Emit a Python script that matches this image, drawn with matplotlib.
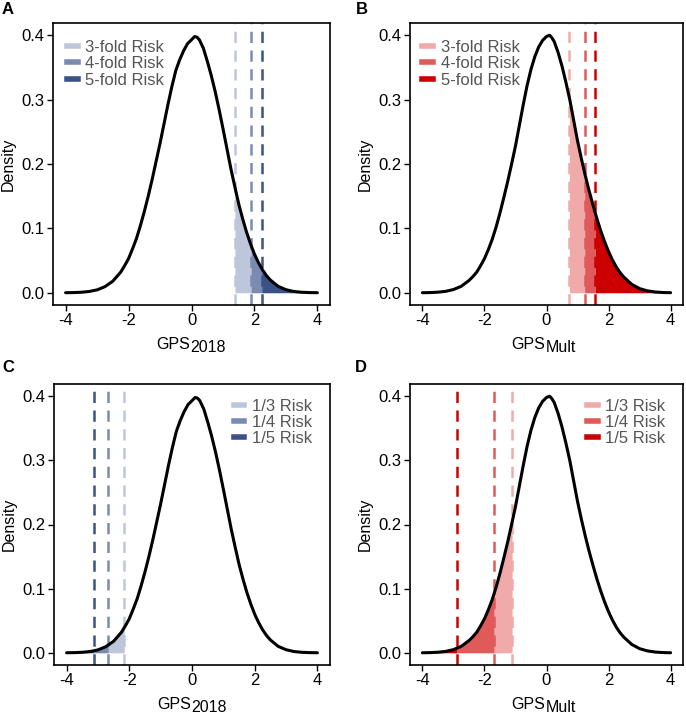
import numpy as np
import matplotlib
matplotlib.use("Agg")
import matplotlib.pyplot as plt
from matplotlib.lines import Line2D
from matplotlib.transforms import offset_copy

plt.rcParams['font.family'] = ['Liberation Sans', 'DejaVu Sans']

# Density curves (x grid shared by both scores)
grid_x = [-4.0, -3.75, -3.5, -3.25, -3.0, -2.75, -2.5, -2.375, -2.25, -2.125,
          -2.0, -1.875, -1.75, -1.625, -1.5, -1.375, -1.25, -1.125, -1.0, -0.875,
          -0.75, -0.625, -0.5, -0.375, -0.25, -0.125, 0.0, 0.1, 0.175, 0.25,
          0.375, 0.5, 0.625, 0.75, 0.875, 1.0, 1.125, 1.25, 1.375, 1.5,
          1.625, 1.75, 1.875, 2.0, 2.125, 2.25, 2.375, 2.5, 2.75, 3.0,
          3.25, 3.5, 3.75, 4.0]
dens_2018 = [0.0001, 0.0003, 0.0008, 0.002, 0.0045, 0.0095, 0.018, 0.025, 0.032, 0.042,
             0.053, 0.068, 0.084, 0.104, 0.126, 0.150, 0.176, 0.204, 0.232, 0.262,
             0.292, 0.320, 0.345, 0.362, 0.376, 0.387, 0.393, 0.398, 0.397, 0.393,
             0.380, 0.360, 0.338, 0.313, 0.285, 0.255, 0.224, 0.193, 0.165, 0.138,
             0.115, 0.094, 0.076, 0.060, 0.047, 0.036, 0.027, 0.020, 0.010, 0.0048,
             0.002, 0.0008, 0.0003, 0.0001]
dens_mult = [0.0001, 0.0003, 0.0009, 0.0022, 0.005, 0.010, 0.019, 0.025, 0.032, 0.042,
             0.053, 0.067, 0.083, 0.102, 0.124, 0.148, 0.173, 0.200, 0.228, 0.260,
             0.292, 0.322, 0.347, 0.367, 0.382, 0.392, 0.398, 0.400, 0.396, 0.390,
             0.373, 0.352, 0.327, 0.300, 0.268, 0.236, 0.208, 0.182, 0.158, 0.136,
             0.115, 0.096, 0.079, 0.064, 0.051, 0.040, 0.031, 0.024, 0.013, 0.0065,
             0.003, 0.0012, 0.0004, 0.0001]

# Risk thresholds (x positions of the dashed lines)
high_labels = ['3-fold Risk', '4-fold Risk', '5-fold Risk']
low_labels = ['1/3 Risk', '1/4 Risk', '1/5 Risk']
thr_2018_high = [1.38, 1.89, 2.23]
thr_mult_high = [0.74, 1.23, 1.57]
thr_2018_low = [-2.16, -2.67, -3.13]
thr_mult_low = [-1.11, -1.69, -2.90]

blues = ['#BEC6DC', '#7A8BB2', '#3A5287']
reds = ['#F0AAAA', '#E05A5A', '#CC0000']

fig = plt.figure(figsize=(6.86, 7.14), dpi=100)
W, H = 686, 714


def add_axes(l, t, r, b):
    return fig.add_axes([l / W, 1 - b / H, (r - l) / W, (b - t) / H])


def panel(ax, dens, thr, labels, colors, upper, sub, leg_anchor, leg_loc):
    x = np.array(grid_x)
    y = np.array(dens)
    # shaded segments between thresholds
    ends = thr[1:] + ([4.0] if upper else [-4.0])
    for a, b, c in zip(thr, ends, colors):
        lo, hi = min(a, b), max(a, b)
        inner = x[(x > lo) & (x < hi)]
        xs = np.concatenate([[lo], inner, [hi]])
        ys = np.interp(xs, x, y)
        ax.fill_between(xs, 0, ys, color=c, lw=0)
    for t, c in zip(thr, colors):
        ax.axvline(t, color=c, lw=1.8, dashes=(4.5, 3))
    ax.plot(x, y, color='black', lw=2.2, solid_joinstyle='round', solid_capstyle='round')

    ax.set_xlim(-4.4, 4.4)
    ax.set_ylim(-0.019, 0.419)
    ax.set_xticks([-4, -2, 0, 2, 4])
    ax.set_xticklabels(['-4', '-2', '0', '2', '4'])
    ax.set_yticks([0, 0.1, 0.2, 0.3, 0.4])
    ax.set_yticklabels(['0.0', '0.1', '0.2', '0.3', '0.4'])
    ax.tick_params(labelsize=12, length=4, width=1, color='black', labelcolor='black', pad=2)
    for s in ax.spines.values():
        s.set_linewidth(1.2)
    ax.set_ylabel('Density', fontsize=11.5, labelpad=4)

    # x label: "GPS" with a full-size, lowered subscript
    base = offset_copy(ax.transAxes, fig=fig, x=-1, y=-32, units='dots')
    ax.text(0.5, 0, 'GPS', transform=base, ha='right', va='top', fontsize=11.5)
    subt = offset_copy(ax.transAxes, fig=fig, x=-1, y=-35, units='dots')
    ax.text(0.5, 0, sub, transform=subt, ha='left', va='top', fontsize=11.5)

    handles = [Line2D([], [], color=c, lw=4) for c in colors]
    ax.legend(handles, labels, loc=leg_loc, bbox_to_anchor=leg_anchor, frameon=False,
              fontsize=12, handlelength=0.65, handletextpad=0.45, labelspacing=0.08,
              borderaxespad=0, borderpad=0, labelcolor='#555555')


axA = add_axes(53, 23, 330, 305)
axB = add_axes(410, 23, 683, 305)
axC = add_axes(54, 384, 330, 665)
axD = add_axes(410, 384, 683, 665)

panel(axA, dens_2018, thr_2018_high, high_labels, blues, True, '2018', (0.05, 0.94), 'upper left')
panel(axB, dens_mult, thr_mult_high, high_labels, reds, True, 'Mult', (0.045, 0.94), 'upper left')
panel(axC, dens_2018, thr_2018_low, low_labels, blues, False, '2018', (0.935, 0.948), 'upper right')
panel(axD, dens_mult, thr_mult_low, low_labels, reds, False, 'Mult', (0.935, 0.948), 'upper right')

for lab, px, py in [('A', 2, 2), ('B', 356, 2), ('C', 2, 360), ('D', 355, 360)]:
    fig.text(px / W, 1 - py / H, lab, fontsize=12, fontweight='bold', va='top', ha='left')

fig.savefig('out.png', dpi=100)
